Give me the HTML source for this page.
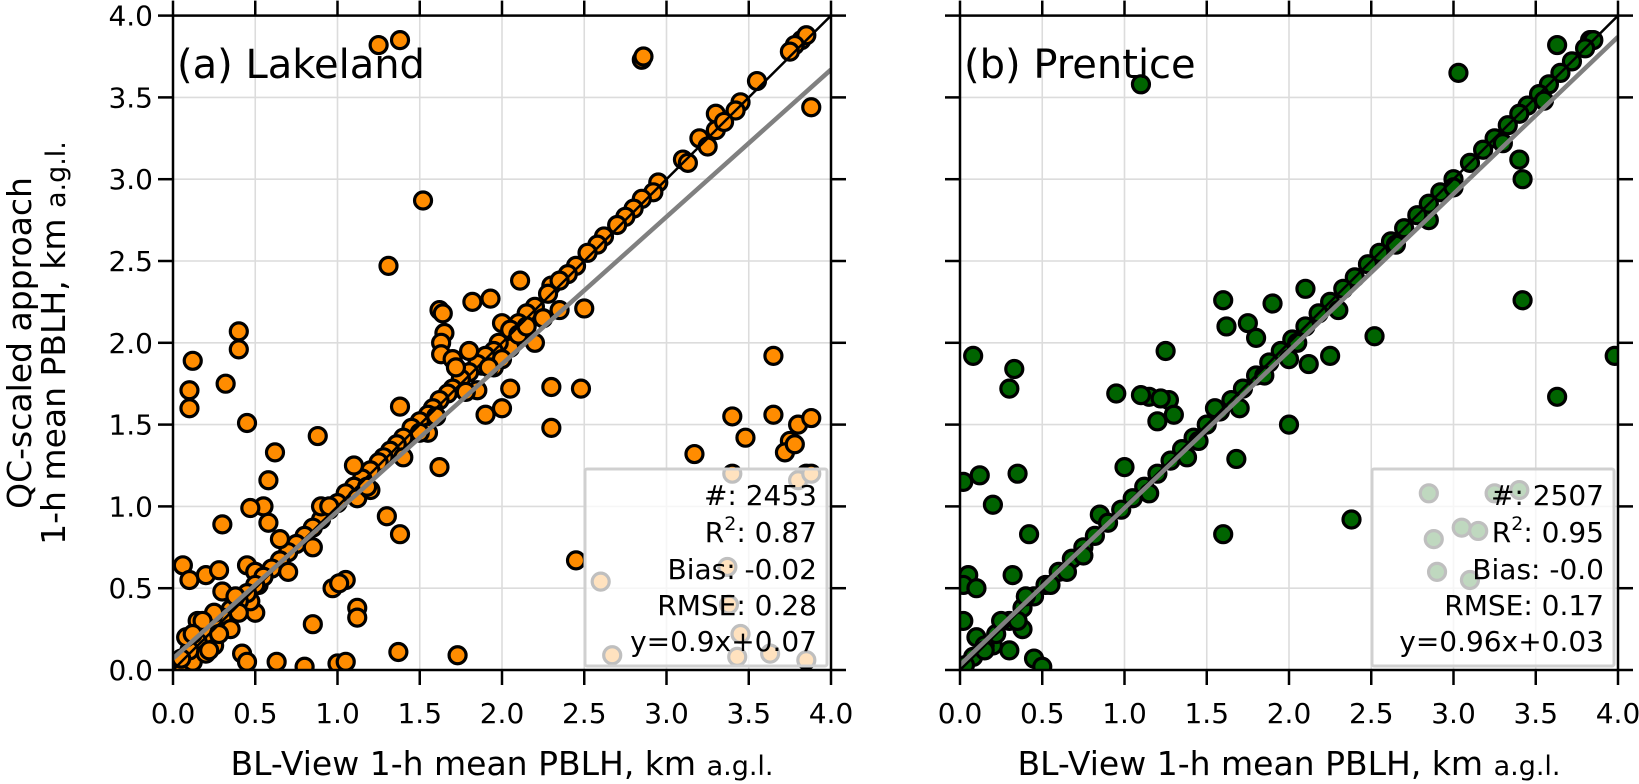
<!DOCTYPE html>
<html><head><meta charset="utf-8"><style>
html,body{margin:0;padding:0;background:#fff;}
svg{display:block;font-family:"DejaVu Sans","Liberation Sans",sans-serif;}
</style></head><body>
<svg id="fig" width="1639" height="784" viewBox="0 0 1639 784" xmlns="http://www.w3.org/2000/svg"></svg>
<script>
// ---- data ----
const ticks = [0,0.5,1.0,1.5,2.0,2.5,3.0,3.5,4.0];
const tickLabels = ["0.0","0.5","1.0","1.5","2.0","2.5","3.0","3.5","4.0"];
const lakeX = [1.25,1.38,2.85,2.86,1.52,1.31,3.88,0.12,0.10,0.10,0.40,0.40,0.32,0.45,0.62,0.58,0.55,0.47,0.30,0.58,0.88,1.38,1.38,1.30,1.38,1.05,0.97,1.01,1.12,1.12,0.85,0.63,0.80,1.00,1.05,1.37,1.73,0.42,0.45,0.06,0.10,0.20,0.28,0.45,0.50,0.52,0.06,0.12,0.25,0.30,0.50,0.47,0.30,
1.82,1.93,1.62,1.64,1.65,1.63,1.63,1.88,1.85,1.90,2.00,2.05,2.11,2.30,2.30,2.30,2.50,2.48,2.05,2.00,1.62,2.45,3.17,3.65,3.65,3.80,3.75,3.72,3.78,3.88,3.48,3.40,3.85,3.80,
2.60,2.67,3.37,3.38,3.45,3.43,3.63,3.85,3.40,3.88,
3.82,3.85,3.78,3.75,3.55,3.45,3.42,3.30,3.30,3.20,3.25,3.35,3.10,3.13,2.95,2.92,2.85,2.80,2.75,2.70,2.62,2.58,2.52,2.45,2.40,2.35,2.28,2.20,2.15,2.10,2.05,1.98,1.95,1.90,1.85,1.80,1.75,1.70,1.67,1.62,1.58,1.55,1.50,1.45,1.40,1.36,1.32,1.28,1.25,1.20,1.15,1.10,1.05,1.00,0.95,0.90,0.85,0.80,0.75,0.70,0.65,0.60,0.55,0.50,0.45,0.40,0.35,0.30,0.25,0.20,0.15,0.10,0.05,
1.40,1.55,1.10,0.90,1.70,1.80,2.20,2.35,1.95,0.70,0.65,0.85,0.20,0.15,0.25,0.35,1.12,1.20,2.00,2.10,0.08,0.18,0.22,0.38,
1.72,1.78,1.92,2.15,2.25,1.50,1.60,0.95,1.18,0.28,0.40,0.12];
const lakeY = [3.82,3.85,3.73,3.75,2.87,2.47,3.44,1.89,1.71,1.60,2.07,1.96,1.75,1.51,1.33,1.16,1.00,0.99,0.89,0.90,1.43,1.61,1.35,0.94,0.83,0.55,0.50,0.53,0.38,0.32,0.28,0.05,0.02,0.04,0.05,0.11,0.09,0.10,0.05,0.64,0.55,0.58,0.61,0.64,0.60,0.52,0.02,0.05,0.15,0.30,0.35,0.42,0.48,
2.25,2.27,2.20,2.18,2.06,2.00,1.93,1.86,1.71,1.56,1.60,1.72,2.38,2.35,1.73,1.48,2.21,1.72,1.97,2.12,1.24,0.67,1.32,1.92,1.56,1.50,1.40,1.33,1.38,1.54,1.42,1.55,1.20,1.16,
0.54,0.09,0.63,0.40,0.22,0.08,0.10,0.06,1.20,1.20,
3.85,3.88,3.82,3.78,3.60,3.47,3.42,3.40,3.30,3.25,3.20,3.35,3.12,3.10,2.98,2.92,2.88,2.82,2.77,2.72,2.65,2.60,2.55,2.47,2.42,2.38,2.30,2.22,2.18,2.12,2.08,2.00,1.95,1.92,1.87,1.82,1.78,1.72,1.69,1.65,1.60,1.56,1.52,1.48,1.42,1.38,1.34,1.30,1.27,1.22,1.17,1.12,1.08,1.02,0.98,0.92,0.87,0.82,0.77,0.72,0.67,0.62,0.57,0.52,0.47,0.42,0.37,0.32,0.27,0.22,0.17,0.12,0.07,
1.30,1.45,1.25,1.00,1.90,1.95,2.00,2.20,1.85,0.60,0.80,0.75,0.10,0.30,0.35,0.25,1.05,1.10,1.90,2.05,0.20,0.30,0.12,0.45,
1.85,1.70,1.85,2.10,2.15,1.45,1.55,1.00,1.12,0.22,0.35,0.22];
const prenX = [1.10,3.03,3.63,3.83,3.40,3.42,3.42,3.63,3.98,0.08,0.33,0.30,0.35,0.12,0.20,0.02,0.42,0.05,0.02,0.10,0.32,0.30,0.38,0.45,0.50,0.02,0.10,0.20,
1.60,1.62,1.75,1.80,1.90,2.10,1.15,1.10,0.95,1.25,1.20,1.27,1.30,1.22,0.85,1.00,1.68,1.60,2.00,2.12,2.52,2.85,2.25,2.38,
2.85,3.25,2.88,3.05,3.15,3.40,3.10,2.90,
3.85,3.80,3.72,3.65,3.58,3.52,3.45,3.40,3.33,3.25,3.18,3.10,3.00,2.92,2.85,2.78,2.70,2.62,2.55,2.48,2.40,2.33,2.25,2.18,2.10,2.02,1.95,1.88,1.80,1.72,1.65,1.58,1.50,1.42,1.35,1.28,1.20,1.12,1.05,0.98,0.90,0.82,0.75,0.68,0.60,0.52,0.45,0.38,0.30,0.22,0.15,0.08,0.03,
1.45,1.55,0.75,0.65,2.30,2.00,1.70,0.40,0.25,0.15,
3.55,3.30,3.00,2.65,2.05,1.85,1.38,1.15,0.55,0.35];
const prenY = [3.58,3.65,3.82,3.85,3.12,3.00,2.26,1.67,1.92,1.92,1.84,1.72,1.20,1.19,1.01,1.15,0.83,0.58,0.52,0.50,0.58,0.12,0.25,0.07,0.02,0.30,0.20,0.15,
2.26,2.10,2.12,2.03,2.24,2.33,1.67,1.68,1.69,1.95,1.52,1.65,1.56,1.66,0.95,1.24,1.29,0.83,1.50,1.87,2.04,2.75,1.92,0.92,
1.08,1.08,0.80,0.87,0.85,1.10,0.55,0.60,
3.85,3.80,3.72,3.65,3.58,3.52,3.45,3.40,3.33,3.25,3.18,3.10,3.00,2.92,2.85,2.78,2.70,2.62,2.55,2.48,2.40,2.33,2.25,2.18,2.10,2.02,1.95,1.88,1.80,1.72,1.65,1.58,1.50,1.42,1.35,1.28,1.20,1.12,1.05,0.98,0.90,0.82,0.75,0.68,0.60,0.52,0.45,0.38,0.30,0.22,0.15,0.08,0.03,
1.40,1.60,0.70,0.60,2.20,1.90,1.60,0.45,0.30,0.12,
3.48,3.22,2.95,2.60,2.00,1.80,1.30,1.08,0.52,0.30];
const lakeStats = ["#: 2453","R²: 0.87","Bias: -0.02","RMSE: 0.28","y=0.9x+0.07"];
const prenStats = ["#: 2507","R²: 0.95","Bias: -0.0","RMSE: 0.17","y=0.96x+0.03"];
const lakeFit = [0.9,0.07];
const prenFit = [0.96,0.03];

const NS="http://www.w3.org/2000/svg";
const svg=document.getElementById('fig');
function mk(tag,attrs,parent){const e=document.createElementNS(NS,tag);for(const k in attrs)e.setAttribute(k,attrs[k]);(parent||svg).appendChild(e);return e;}

const Y0=670, Y4=15.6, PX=164.5;
function sy(v){return Y0-(Y0-Y4)*v/4;}

function panel(id,x0,xs,ys,color,stats,fit,title,showY){
  const sx=v=>x0+v*PX;
  const g=mk('g',{});
  
  
  const cp=mk('clipPath',{id:'clip-'+id},g);
  mk('rect',{x:x0,y:Y4,width:4*PX,height:Y0-Y4},cp);
  ticks.forEach(t=>{
    const gx=mk('line',{x1:sx(t),x2:sx(t),y1:Y4,y2:Y0,stroke:'#dcdcdc','stroke-width':1.6},g);
    
    
    const gy=mk('line',{x1:x0,x2:x0+4*PX,y1:sy(t),y2:sy(t),stroke:'#dcdcdc','stroke-width':1.6},g);
    
    
  });
  const pts=mk('g',{'clip-path':'url(#clip-'+id+')'},g);
  
  
  for(let i=0;i<xs.length;i++){
    const c=mk('circle',{cx:sx(xs[i]),cy:sy(ys[i]),r:8.5,fill:color,stroke:'#000','stroke-width':3.2},pts);
    
    
  }
  const lines=mk('g',{'clip-path':'url(#clip-'+id+')'},g);
  const one=mk('line',{x1:sx(0),y1:sy(0),x2:sx(4),y2:sy(4),stroke:'#000','stroke-width':2.5},lines);
  
  
  const fl=mk('line',{x1:sx(0),y1:sy(fit[1]),x2:sx(4),y2:sy(fit[0]*4+fit[1]),stroke:'#808080','stroke-width':4.5},lines);
  
  
  const lx=x0+412, lw=4*PX-416;
  const lb=mk('rect',{x:lx,y:469,width:lw,height:197,fill:'#fff','fill-opacity':0.75,stroke:'#d0d0d0','stroke-width':3,rx:2},g);
  
  
  const base=[505,542,579,615,651];
  stats.forEach((s,i)=>{
    const t=mk('text',{x:x0+4*PX-14,y:base[i],'text-anchor':'end','font-size':28,fill:'#000'},g);
    if(s.startsWith('R²')){
      t.appendChild(document.createTextNode('R'));
      const sp=mk('tspan',{'font-size':19,dy:-12},t);sp.textContent='2';
      const sp2=mk('tspan',{dy:12},t);sp2.textContent=s.slice(2);
    } else t.textContent=s;
    
    
  });
  const tt=mk('text',{x:x0+4,y:78,'font-size':40,fill:'#000'},g);
  tt.textContent=title;
  
  
  const sp=mk('rect',{x:x0,y:Y4,width:4*PX,height:Y0-Y4,fill:'none',stroke:'#000','stroke-width':2.5},g);
  
  
  ticks.forEach((t,i)=>{
    mk('line',{x1:sx(t),x2:sx(t),y1:Y0,y2:Y0+15,stroke:'#000','stroke-width':2.5},g);
    mk('line',{x1:sx(t),x2:sx(t),y1:Y4,y2:Y4-15,stroke:'#000','stroke-width':2.5},g);
    mk('line',{x1:x0,x2:x0-15,y1:sy(t),y2:sy(t),stroke:'#000','stroke-width':2.5},g);
    mk('line',{x1:x0+4*PX,x2:x0+4*PX+15,y1:sy(t),y2:sy(t),stroke:'#000','stroke-width':2.5},g);
    const xl=mk('text',{x:sx(t),y:723,'text-anchor':'middle','font-size':28,fill:'#000'},g);
    xl.textContent=tickLabels[i];
    
    
    if(showY){
      const yl=mk('text',{x:x0-20,y:sy(t)+10,'text-anchor':'end','font-size':28,fill:'#000'},g);
      yl.textContent=tickLabels[i];
      
      
    }
  });
  const xt=mk('text',{x:x0+2*PX,y:775,'text-anchor':'middle','font-size':33,fill:'#000'},g);
  xt.appendChild(document.createTextNode('BL-View 1-h mean PBLH,  km '));
  const ag=mk('tspan',{'font-size':27},xt);ag.textContent='a.g.l.';
  
  
}
panel('lakeland',173,lakeX,lakeY,'#ff8c00',lakeStats,lakeFit,'(a) Lakeland',true);
panel('prentice',960,prenX,prenY,'#006400',prenStats,prenFit,'(b) Prentice',false);

const yt=mk('text',{transform:'translate(31,343) rotate(-90)','text-anchor':'middle','font-size':33,fill:'#000'});
yt.textContent='QC-scaled approach';


const yt2=mk('text',{transform:'translate(65,343) rotate(-90)','text-anchor':'middle','font-size':33,fill:'#000'});
yt2.appendChild(document.createTextNode('1-h mean PBLH, km '));
const ag2=mk('tspan',{'font-size':27},yt2);ag2.textContent='a.g.l.';


</script>
</body></html>
